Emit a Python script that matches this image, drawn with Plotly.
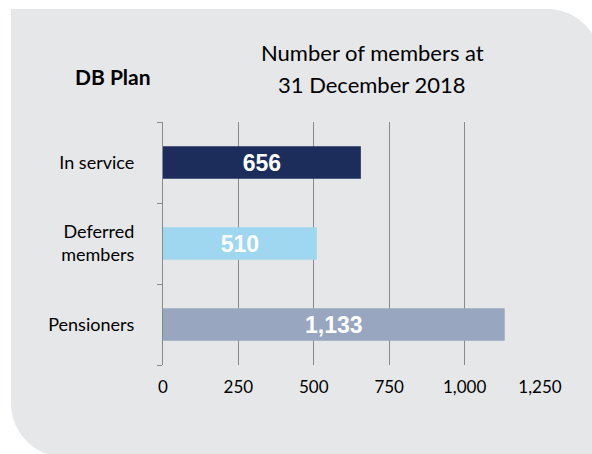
import plotly.graph_objects as go

categories = ["In service", "Deferred<br>members", "Pensioners"]
members = [656, 510, 1133]
bar_colors = ["#1c2d5b", "#9fd7f1", "#98a6c0"]
x_ticks = [0, 250, 500, 750, 1000, 1250]
x_tick_labels = ["0", "250", "500", "750", "1,000", "1,250"]

W, H = 592, 454
L, R, T, B = 163, 540, 122, 365

def px(x):
    return (x - L) / (R - L)

def py(y):
    return (B - y) / (B - T)

fig = go.Figure(go.Bar(
    y=categories, x=members, orientation="h",
    marker=dict(color=bar_colors, line=dict(width=0)),
    texttemplate="%{x:,}", textposition="inside", insidetextanchor="middle",
    textfont=dict(family="Arial, Liberation Sans", size=23, color="white", weight="bold"),
    width=0.4, hoverinfo="skip",
))

k = 0.5523 * 54
path = (f"M {px(11)} {py(9)} L {px(547)} {py(9)} "
        f"C {px(547 + k)} {py(9)} {px(601)} {py(63 - k)} {px(601)} {py(63)} "
        f"L {px(610)} {py(470)} L {px(65)} {py(470)} L {px(65)} {py(457)} "
        f"C {px(65 - k)} {py(457)} {px(11)} {py(403 + k)} {px(11)} {py(403)} Z")
fig.add_shape(type="path", path=path, xref="paper", yref="paper",
              fillcolor="#e6e7e9", line=dict(width=0), layer="below")

fig.add_annotation(text="Number of members at", xref="paper", yref="paper",
                   x=px(372), y=py(52), xanchor="center", yanchor="middle", showarrow=False,
                   font=dict(family="Lato, Open Sans", size=22, color="#000000"))
fig.add_annotation(text="31 December 2018", xref="paper", yref="paper",
                   x=px(372), y=py(85), xanchor="center", yanchor="middle", showarrow=False,
                   font=dict(family="Lato, Open Sans", size=22, color="#000000"))
fig.add_annotation(text="<b>DB Plan</b>", xref="paper", yref="paper",
                   x=px(113), y=py(76), xanchor="center", yanchor="middle", showarrow=False,
                   font=dict(family="Lato, Open Sans", size=21, color="#000000"))

fig.update_layout(
    width=W, height=H,
    margin=dict(l=L, r=W - R, t=T, b=H - B, pad=0),
    paper_bgcolor="white", plot_bgcolor="rgba(0,0,0,0)",
    showlegend=False,
    font=dict(family="Lato, Open Sans", size=17, color="#000000"),
    bargap=0.6,
)
fig.update_xaxes(range=[0, 1250], tickvals=x_ticks, ticktext=x_tick_labels,
                 showgrid=True, gridcolor="#8a8a8a", gridwidth=1.3, zeroline=False,
                 showline=False, ticks="", ticklabelstandoff=10,
                 tickfont=dict(size=17))
fig.update_yaxes(categoryorder="array", categoryarray=categories[::-1],
                 tickson="boundaries", ticks="outside", ticklen=5, tickcolor="#8a8a8a",
                 showline=True, linecolor="#8a8a8a", linewidth=1.3,
                 showgrid=False, ticklabelstandoff=24, tickfont=dict(size=18))

fig.write_html("out.html", config={"displayModeBar": False},
               post_script="document.body.style.margin='0px';document.body.style.overflow='hidden';")
